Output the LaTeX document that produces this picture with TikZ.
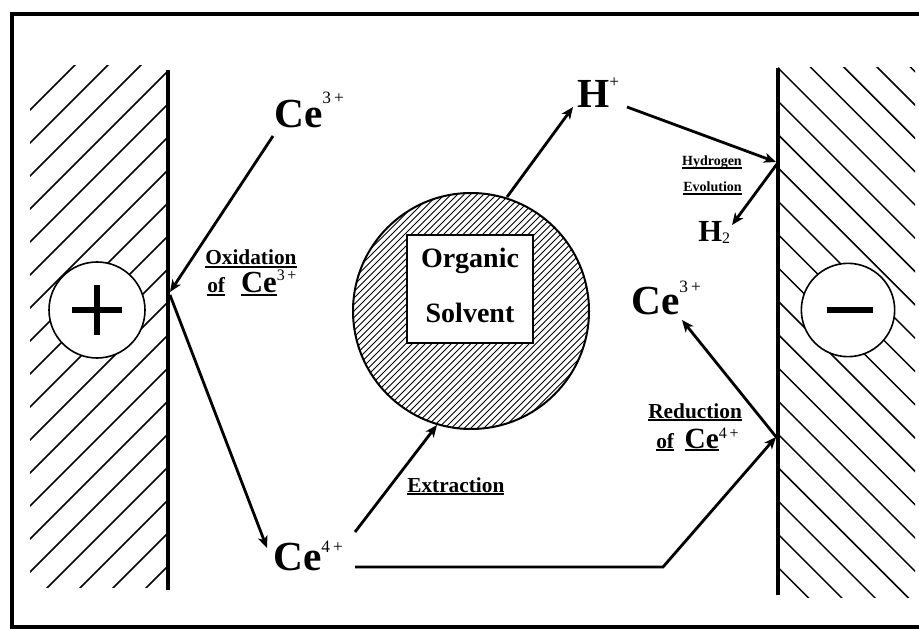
\documentclass[tikz,border=0pt]{standalone}
\usepackage{fontspec}
\setmainfont{Liberation Serif}
\usetikzlibrary{arrows.meta}
\newcommand\ionsup[3]{\raisebox{#1}{\fontsize{#2}{#2}\selectfont\mdseries #3}}
\newcommand\ulbf[1]{\setbox0\hbox{#1}\rlap{\rule[-2.4pt]{\wd0}{1.3pt}}\box0}
\begin{document}
\begin{tikzpicture}[x=0.75pt,y=-0.75pt,
  frame/.style={line width=2.3pt},
  electrode/.style={line width=3.6pt},
  hatchline/.style={line width=1.1pt},
  fine/.style={line width=0.55pt},
  arr/.style={line width=2.1pt,-{Stealth[length=9pt,width=7.5pt,inset=2.5pt]}},
  ion/.style={inner sep=0pt,anchor=base west,font=\fontsize{31}{31}\selectfont\bfseries},
  lbl/.style={inner sep=0pt,anchor=base west,font=\fontsize{16}{16}\selectfont\bfseries},
  smalllbl/.style={inner sep=0pt,anchor=base east,font=\fontsize{10.5}{10.5}\selectfont\bfseries},
  polecirc/.style={circle,draw,fill=white,line width=1.2pt,inner sep=0pt,minimum size=72pt},
  solvbox/.style={draw,fill=white,line width=1.8pt,minimum width=94.5pt,minimum height=81pt,
    inner sep=0pt,align=center,font=\fontsize{21}{41}\selectfont\bfseries}
]
\useasboundingbox (0,0) rectangle (919,630);
% frame
\draw[frame] (919,14) -- (12,14) -- (12,627) -- (919,627);

% left electrode hatching
\begin{scope}
  \clip (30,66) rectangle (168,587);
  \foreach \c in {140,173,...,740}
    \draw[hatchline] (\c,0) -- ({\c-600},600);
\end{scope}
% right electrode hatching
\begin{scope}
  \clip (778,68) rectangle (915,597);
  \foreach \k in {0,...,19}
    \draw[hatchline] (700,{700-843.3+33.3*\k}) -- (1000,{1000-843.3+33.3*\k});
\end{scope}
% electrodes
\draw[electrode] (168,70) -- (168,590);
\draw[electrode] (778,68) -- (778,595);

% poles
\node[polecirc] (plus) at (97,310) {};
\draw[line width=4.5pt] (72,310) -- (122,310) (97,285) -- (97,335);
\node[polecirc,minimum size=70pt] (minus) at (848,310) {};
\draw[line width=5pt] (827,310) -- (873,310);

% organic solvent drop
\begin{scope}
  \clip (471,311) circle (118);
  \foreach \k in {0,...,58}
    \draw[fine] ({600+6.5*\k-450},450) -- ({600+6.5*\k-180},180);
\end{scope}
\draw[line width=1.5pt] (471,311) circle (118);
\node[solvbox] (solv) at (470,289) {Organic\\Solvent\rule[-6pt]{0pt}{6pt}};

% ions
\node[ion] (ce3a) at (274,128) {Ce\ionsup{18pt}{13}{3\,+}};
\node[ion] (ce4) at (273,570) {Ce\ionsup{13.5pt}{13}{4\,+}};
\node[ion] (ce3b) at (631,315) {Ce\ionsup{17pt}{13}{3\,+}};
\node[ion] (hplus) at (577,108) {H\ionsup{15pt}{13}{+}};
\node[ion,font=\fontsize{23}{23}\selectfont\bfseries] (h2) at (698,242) {H\ionsup{-0.8pt}{12}{2}};

% labels
\node[lbl] (oxa) at (205,265) {\ulbf{Oxidation}};
\node[lbl] (oxb) at (207,293) {\ulbf{of}\hspace*{12pt}\ulbf{\fontsize{23}{23}\selectfont Ce}\ionsup{9pt}{12}{3\,+}};
\node[lbl] (reda) at (648,418) {\ulbf{Reduction}};
\node[lbl] (redb) at (656,448) {\ulbf{of}\hspace*{8pt}\ulbf{\fontsize{22}{22}\selectfont Ce}\ionsup{7.5pt}{12}{4\,+}};
\node[lbl] (extr) at (407,492) {\ulbf{Extraction}};
\node[smalllbl] (hyda) at (742,166) {\ulbf{Hydrogen}};
\node[smalllbl] (hydb) at (742,192) {\ulbf{Evolution}};

% connector end points
\coordinate (eA) at (170,292);
\coordinate (eA2) at (170,295);
\coordinate (eH) at (776,162);
\coordinate (eH2) at (777,164);
\coordinate (eR) at (776,437);
\coordinate (eR2) at (777,438);
\coordinate (s1) at (273,136);
\coordinate (t2) at (267,548);
\coordinate (s3) at (355,532);
\coordinate (t3) at (437,425);
\coordinate (s4) at (507,197);
\coordinate (t4) at (573,107);
\coordinate (s5) at (627,107);
\coordinate (t6) at (732,225);
\coordinate (s7) at (355,567);
\coordinate (bend) at (663,567);
\coordinate (t8) at (682,320);

% connectors
\draw[arr] (s1) -- (eA);
\draw[arr] (eA2) -- (t2);
\draw[arr] (s3) -- (t3);
\draw[arr] (s4) -- (t4);
\draw[arr] (s5) -- (eH);
\draw[arr] (eH2) -- (t6);
\draw[arr] (s7) -- (bend) -- (eR);
\draw[arr] (eR2) -- (t8);
\end{tikzpicture}
\end{document}
